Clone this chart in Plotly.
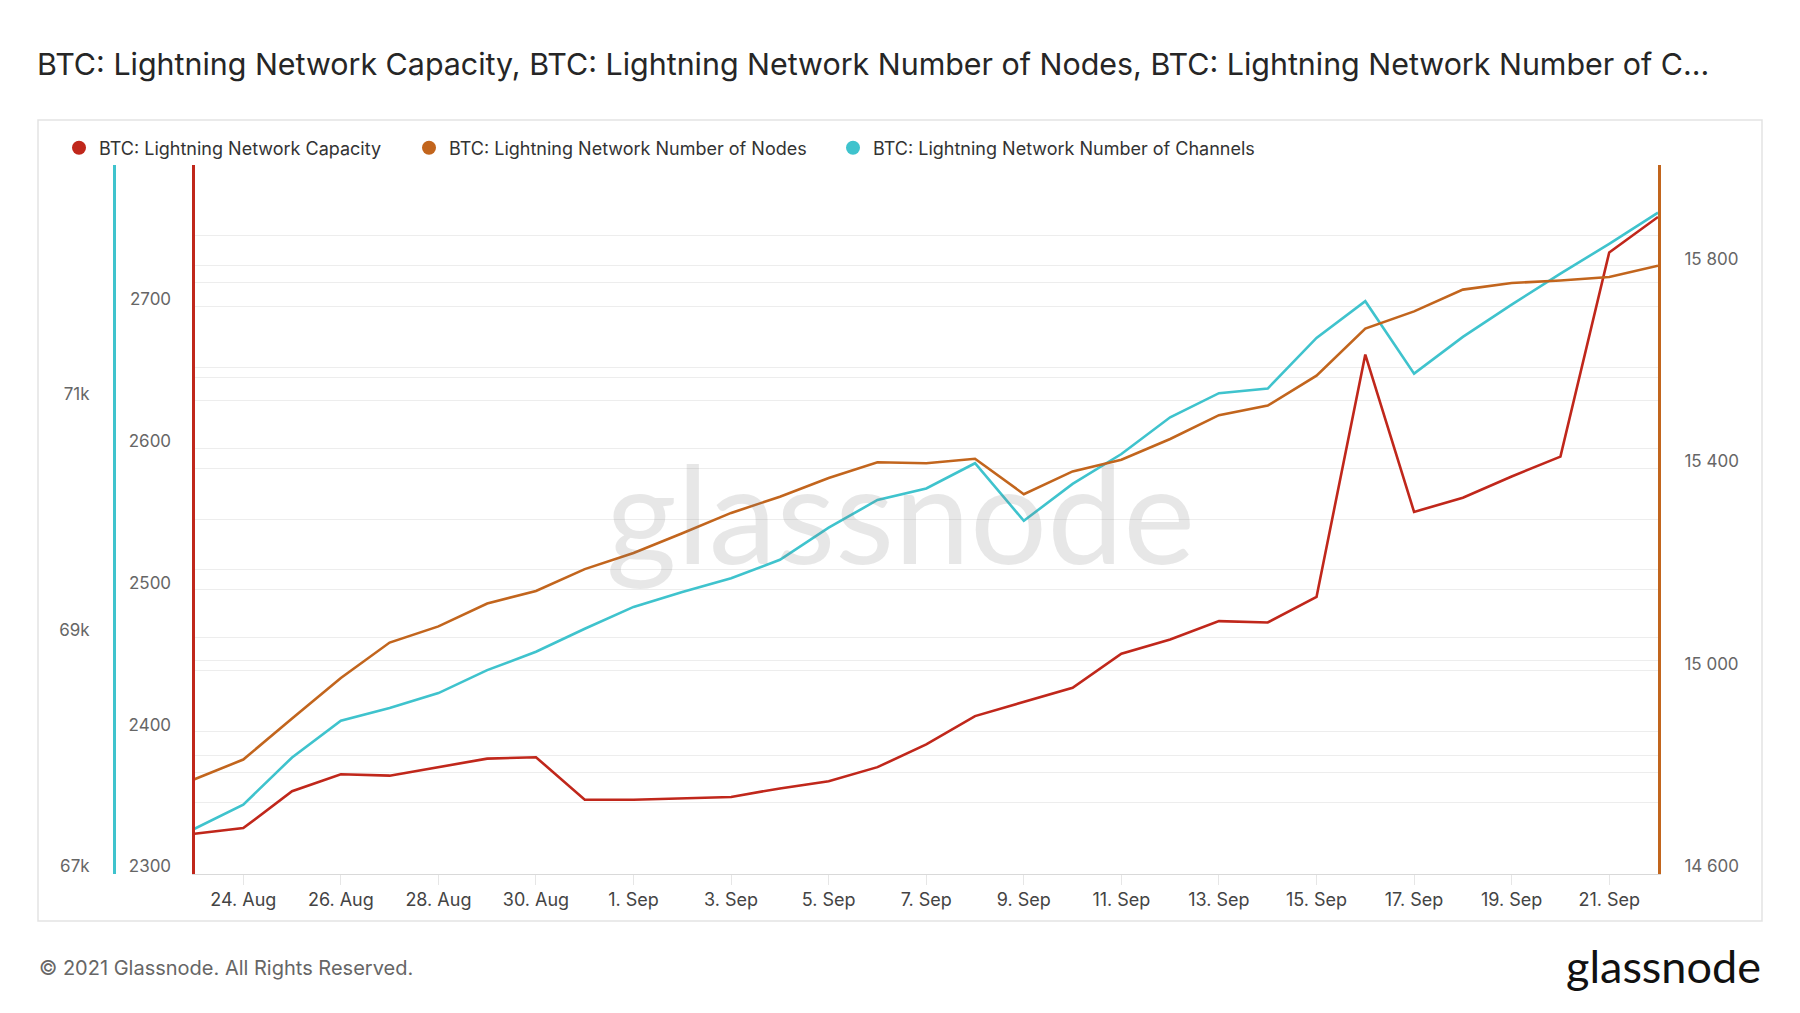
import plotly.graph_objects as go
import pandas as pd

# ---------------- data ----------------
dates = pd.date_range("2021-08-23", "2021-09-22", freq="D")

capacity = [2328, 2332, 2358, 2370, 2369, 2375, 2381, 2382, 2352, 2352,
            2353, 2354, 2360, 2365, 2375, 2391, 2411, 2421, 2431, 2455,
            2465, 2478, 2477, 2495, 2666, 2555, 2565, 2580, 2594, 2738, 2763]

nodes = [14786, 14825, 14906, 14986, 15056, 15088, 15133, 15158, 15201, 15233,
         15272, 15312, 15344, 15381, 15412, 15410, 15419, 15349, 15394, 15417,
         15458, 15505, 15524, 15583, 15676, 15710, 15753, 15766, 15771, 15778, 15800]

channels = [67379, 67583, 67982, 68293, 68400, 68527, 68721, 68877, 69071, 69256,
            69383, 69499, 69655, 69927, 70161, 70258, 70472, 69985, 70297, 70550,
            70861, 71065, 71104, 71532, 71843, 71230, 71541, 71814, 72076, 72329, 72592]

cap_tickvals = [2300, 2350, 2400, 2450, 2500, 2550, 2600, 2650, 2700, 2750, 2800]
cap_ticktext = ["2300", "", "2400", "", "2500", "", "2600", "", "2700", "", ""]
ch_tickvals = [67000, 68000, 69000, 70000, 71000, 72000, 73000]
ch_ticktext = ["67k", "", "69k", "", "71k", "", ""]
nd_tickvals = [14600, 14800, 15000, 15200, 15400, 15600, 15800, 16000]
nd_ticktext = ["14 600", "", "15 000", "", "15 400", "", "15 800", ""]

names = ["BTC: Lightning Network Capacity",
         "BTC: Lightning Network Number of Nodes",
         "BTC: Lightning Network Number of Channels"]

RED = "#c0271b"
ORANGE = "#c2651d"
CYAN = "#3fc3cd"

W, H = 1800, 1013
FONT = "Inter"

def px_x(v):
    return v / W

def px_y(v):
    return 1 - v / H

fig = go.Figure()

fig.add_trace(go.Scatter(x=dates, y=capacity, mode="lines", name=names[0],
                         line=dict(color=RED, width=2.6), yaxis="y", showlegend=False))
fig.add_trace(go.Scatter(x=dates, y=nodes, mode="lines", name=names[1],
                         line=dict(color=ORANGE, width=2.6), yaxis="y3", showlegend=False))
fig.add_trace(go.Scatter(x=dates, y=channels, mode="lines", name=names[2],
                         line=dict(color=CYAN, width=2.6), yaxis="y2", showlegend=False))

# legend entries (circle symbols), each in its own legend box
legend_ids = ["legend", "legend2", "legend3"]
legend_x = [59, 409, 833]
for nm, col, lid in zip(names, [RED, ORANGE, CYAN], legend_ids):
    fig.add_trace(go.Scatter(x=[None], y=[None], mode="markers", name=nm,
                             marker=dict(color=col, size=14, symbol="circle"),
                             showlegend=True, legend=lid))

grid = "#ededed"
tickfont = dict(family=FONT, size=17, color="#666666")

legend_common = dict(orientation="h", yanchor="middle", xanchor="left",
                     font=dict(family=FONT, size=18, color="#333333"),
                     itemwidth=30, bgcolor="rgba(0,0,0,0)")

fig.update_layout(
    width=W, height=H, autosize=False,
    margin=dict(l=0, r=0, t=0, b=0),
    paper_bgcolor="white", plot_bgcolor="white",
    font=dict(family=FONT, color="#333333"),
    showlegend=True,
    legend=dict(x=px_x(legend_x[0]), y=px_y(148), **legend_common),
    legend2=dict(x=px_x(legend_x[1]), y=px_y(148), **legend_common),
    legend3=dict(x=px_x(legend_x[2]), y=px_y(148), **legend_common),
    xaxis=dict(domain=[px_x(194.5), px_x(1658)],
               range=[dates[0], dates[-1]],
               type="date", tick0="2021-08-24", dtick=2 * 86400000,
               tickformat="%-d. %b",
               showgrid=False, zeroline=False,
               showline=True, linecolor="#d9d9d9", linewidth=1,
               ticks="outside", ticklen=10, tickcolor="#e6e6e6",
               tickfont=dict(family=FONT, size=18, color="#444444"),
               anchor="y"),
    yaxis=dict(domain=[px_y(873.5), px_y(164.5)],
               range=[2300, 2800], side="left", anchor="x",
               tickmode="array", tickvals=cap_tickvals, ticktext=cap_ticktext,
               showgrid=True, gridcolor=grid, gridwidth=1, zeroline=False,
               showline=True, linecolor=RED, linewidth=3,
               ticks="", tickfont=tickfont, ticklabelstandoff=17, ticklabelshift=-7,
               automargin=False),
    yaxis2=dict(range=[67000, 73000], overlaying="y", side="left",
                anchor="free", position=px_x(114),
                tickmode="array", tickvals=ch_tickvals, ticktext=ch_ticktext,
                showgrid=True, gridcolor=grid, gridwidth=1, zeroline=False,
                showline=True, linecolor=CYAN, linewidth=3,
                ticks="", tickfont=tickfont, ticklabelstandoff=20, ticklabelshift=-7,
                automargin=False),
    yaxis3=dict(range=[14600, 16000], overlaying="y", side="right", anchor="x",
                tickmode="array", tickvals=nd_tickvals, ticktext=nd_ticktext,
                showgrid=True, gridcolor=grid, gridwidth=1, zeroline=False,
                showline=True, linecolor=ORANGE, linewidth=3,
                ticks="", tickfont=tickfont,
                ticklabelstandoff=20, ticklabelshift=-7,
                automargin=False),
    title=dict(text="BTC: Lightning Network Capacity, BTC: Lightning Network Number of Nodes, BTC: Lightning Network Number of C...",
               x=px_x(37), xanchor="left", xref="paper",
               y=px_y(64), yanchor="middle", yref="paper",
               font=dict(family=FONT, size=30.4, color="#262626")),
)

# panel border
fig.add_shape(type="rect", xref="paper", yref="paper",
              x0=px_x(38), x1=px_x(1762), y0=px_y(921), y1=px_y(120),
              line=dict(color="#e3e3e3", width=1.5), fillcolor="rgba(0,0,0,0)", layer="below")

# watermark
fig.add_annotation(text="glassnode", xref="paper", yref="paper",
                   x=px_x(900), y=px_y(512), xanchor="center", yanchor="middle",
                   showarrow=False,
                   font=dict(family="Lato", size=136, color="rgba(120,120,120,0.18)"))

# footer
fig.add_annotation(text="© 2021 Glassnode. All Rights Reserved.", xref="paper", yref="paper",
                   x=px_x(37), y=px_y(968), xanchor="left", yanchor="middle",
                   showarrow=False, font=dict(family=FONT, size=20, color="#666666"))
fig.add_annotation(text="glassnode", xref="paper", yref="paper",
                   x=px_x(1763), y=px_y(966), xanchor="right", yanchor="middle",
                   showarrow=False, font=dict(family="Lato", size=45, color="#111111"))

fig.write_html("out.html",
               config={"displayModeBar": False},
               post_script="document.body.style.margin='0px';document.body.style.overflow='hidden';")
